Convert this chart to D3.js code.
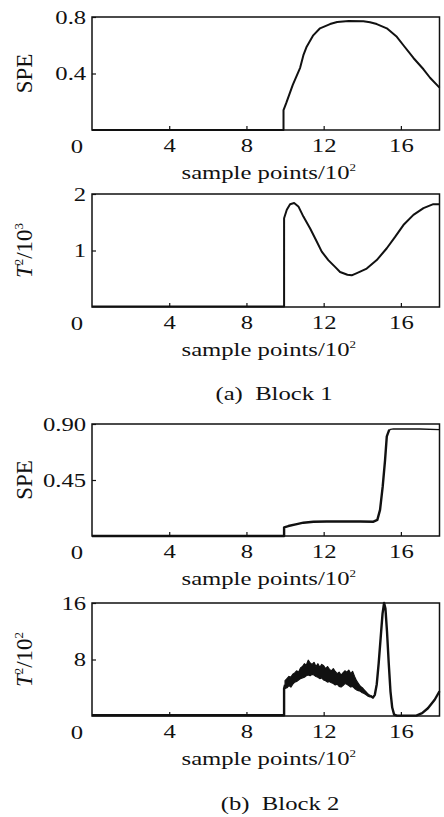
<!DOCTYPE html>
<html>
<head>
<meta charset="utf-8">
<script src="https://cdn.jsdelivr.net/npm/d3@7"></script>
<style>
    body { margin: 0; background: #fff; }
    svg { display: block; }
</style>
</head>
<body>
<div id="grafico"></div>
<script>

/**************************************************
 * Data
***************************************************/
// x axis = sample points / 10^2
const xTicks = [4, 8, 12, 16];

// (a) Block 1 - SPE
const b1SpeX = [0, 9.92, 9.92, 10.06, 10.4, 10.78, 10.95, 11.12, 11.46, 11.81, 12.33, 12.7, 13.3, 14.06, 14.4, 14.75, 15.27, 15.79, 16.13, 16.65, 17.17, 17.51, 18];
const b1SpeY = [0, 0, 0.14, 0.19, 0.32, 0.44, 0.53, 0.59, 0.67, 0.72, 0.75, 0.765, 0.772, 0.77, 0.763, 0.75, 0.72, 0.66, 0.60, 0.51, 0.43, 0.37, 0.30];
const b1SpeTicks = [0.4, 0.8];

// (a) Block 1 - T^2 / 10^3
const b1T2X = [0, 9.95, 9.95, 10.09, 10.26, 10.47, 10.69, 10.95, 11.30, 11.64, 11.90, 12.24, 12.59, 12.85, 13.23, 13.45, 13.72, 14.23, 14.75, 15.27, 15.70, 16.13, 16.65, 17.17, 17.68, 18];
const b1T2Y = [0.01, 0.01, 1.57, 1.72, 1.82, 1.84, 1.78, 1.60, 1.39, 1.16, 0.98, 0.83, 0.71, 0.62, 0.57, 0.56, 0.60, 0.68, 0.83, 1.04, 1.24, 1.45, 1.63, 1.75, 1.82, 1.82];
const b1T2Ticks = [1, 2];

// (b) Block 2 - SPE
const b2SpeX = [0, 9.95, 9.95, 10.17, 10.61, 10.95, 11.47, 12.16, 13.02, 13.89, 14.58, 14.78, 14.92, 15.06, 15.18, 15.27, 15.40, 15.61, 16.99, 18];
const b2SpeY = [0, 0, 0.07, 0.08, 0.095, 0.107, 0.115, 0.117, 0.117, 0.117, 0.115, 0.13, 0.21, 0.40, 0.61, 0.80, 0.855, 0.86, 0.86, 0.855];
const b2SpeTicks = [0.45, 0.90];

// (b) Block 2 - T^2 / 10^2 (line parts, null = gap covered by the noisy band)
const b2T2X = [0, 9.95, 9.95, 10.0, null, 14.4, 14.45, 14.55, 14.65, 14.75, 14.85, 14.95, 15.05, 15.13, 15.2, 15.28, 15.37, 15.46, 15.55, 15.65, 15.8, 16.8, 17.1, 17.4, 17.75, 18];
const b2T2Y = [0.1, 0.1, 3.9, 4.4, null, 2.85, 2.8, 2.6, 3.0, 4.5, 7.5, 11.0, 14.5, 16.0, 15.2, 12.0, 7.5, 3.5, 1.2, 0.2, 0.05, 0.05, 0.4, 1.1, 2.3, 3.5];
// noisy band 10 - 14.4 (upper / lower envelope)
const b2BandX = [10.0, 10.1, 10.2, 10.3, 10.4, 10.5, 10.6, 10.7, 10.8, 10.9, 11.0, 11.1, 11.2, 11.3, 11.4, 11.5, 11.6, 11.7, 11.8, 11.9, 12.0, 12.1, 12.2, 12.3, 12.4, 12.5, 12.6, 12.7, 12.8, 12.9, 13.0, 13.1, 13.2, 13.3, 13.4, 13.5, 13.6, 13.7, 13.8, 13.9, 14.0, 14.1, 14.2, 14.3, 14.4];
const b2BandHi = [5.0, 5.3, 5.6, 5.5, 5.9, 6.1, 6.4, 6.2, 6.8, 7.0, 7.4, 7.2, 7.9, 7.5, 7.3, 7.6, 7.0, 7.4, 6.9, 7.3, 7.1, 6.7, 7.0, 6.6, 6.4, 6.7, 6.3, 6.0, 6.2, 5.8, 6.1, 6.4, 6.2, 6.5, 6.0, 6.3, 5.6, 5.0, 4.6, 4.2, 4.0, 3.7, 3.4, 3.1, 2.9];
const b2BandLo = [3.9, 4.0, 4.3, 4.1, 4.5, 4.8, 4.9, 5.1, 5.3, 5.4, 5.5, 5.7, 5.8, 5.7, 5.9, 5.8, 5.6, 5.5, 5.3, 5.4, 5.1, 5.0, 4.8, 4.9, 4.7, 4.6, 4.4, 4.5, 4.2, 4.1, 4.3, 4.6, 4.5, 4.3, 4.1, 4.2, 3.9, 3.7, 3.6, 3.5, 3.3, 3.2, 3.0, 2.8, 2.7];
const b2T2Ticks = [8, 16];

const captions = ["(a)  Block 1", "(b)  Block 2"];


/**************************************************
 * Dimensions
***************************************************/
const width = 444;
const height = 817;
const plotLeft = 92;
const plotRight = 439.5;
const sx = 1.3;  // texts in the figure are stretched horizontally
const fontSerif = "'Liberation Serif', 'Times New Roman', serif";

const svg = d3.select("#grafico")
    .append("svg")
    .attr("width", width)
    .attr("height", height);

const xScale = d3.scaleLinear()
    .domain([0, 18])
    .range([plotLeft, plotRight]);

const toPoints = (xs, ys) => xs.map((d, i) => ({ x: d, y: ys[i] }));

const panels = [
    { top: 17, bottom: 130, max: 0.8, ticks: b1SpeTicks, fmt: d3.format(".1f"), label: "SPE",
      lines: [{ pts: toPoints(b1SpeX, b1SpeY), w: 2 }] },
    { top: 194, bottom: 307, max: 2, ticks: b1T2Ticks, fmt: d3.format("d"), label: ["2", "3"],
      lines: [{ pts: toPoints(b1T2X, b1T2Y), w: 2 }] },
    { top: 424, bottom: 536, max: 0.9, ticks: b2SpeTicks, fmt: d3.format(".2f"), label: "SPE",
      lines: [{ pts: toPoints(b2SpeX, b2SpeY).filter(d => d.x <= 15.4), w: 2.4 },
              { pts: toPoints(b2SpeX, b2SpeY).filter(d => d.x >= 15.4), w: 1.3 }] },
    { top: 603, bottom: 716, max: 16, ticks: b2T2Ticks, fmt: d3.format("d"), label: ["2", "2"],
      lines: [{ pts: toPoints(b2T2X, b2T2Y), w: 2.4 }],
      band: b2BandX.map((d, i) => ({ x: d, hi: b2BandHi[i], lo: b2BandLo[i] })) }
];

/**************************************************
 * Panels
***************************************************/
panels.forEach(p => {
    const yScale = d3.scaleLinear()
        .domain([0, p.max])
        .range([p.bottom, p.top]);

    const g = svg.append("g");

    // noisy band
    if (p.band) {
        const area = d3.area()
            .x(d => xScale(d.x))
            .y0(d => yScale(d.lo))
            .y1(d => yScale(d.hi));
        g.append("path")
            .datum(p.band)
            .attr("d", area)
            .attr("fill", "#111")
            .attr("stroke", "#111")
            .attr("stroke-width", 1.2)
            .attr("stroke-linejoin", "round");
    }

    // lines
    const line = d3.line()
        .defined(d => d.x != null && d.y != null)
        .x(d => xScale(d.x))
        .y(d => yScale(d.y));

    p.lines.forEach(l => {
        g.append("path")
            .datum(l.pts)
            .attr("d", line)
            .attr("fill", "none")
            .attr("stroke", "#111")
            .attr("stroke-width", l.w)
            .attr("stroke-linejoin", "round");
    });

    // frame
    g.append("rect")
        .attr("x", plotLeft)
        .attr("y", p.top)
        .attr("width", plotRight - plotLeft)
        .attr("height", p.bottom - p.top)
        .attr("fill", "none")
        .attr("stroke", "#111")
        .attr("stroke-width", 1.5);

    // x axis (ticks inside)
    const xAxis = d3.axisBottom(xScale)
        .tickValues(xTicks)
        .tickSizeInner(-4)
        .tickSizeOuter(0)
        .tickPadding(9)
        .tickFormat(d3.format("d"));

    const gx = g.append("g")
        .attr("transform", `translate(0,${p.bottom})`)
        .call(xAxis);

    // y axis (ticks inside)
    const yAxis = d3.axisLeft(yScale)
        .tickValues(p.ticks)
        .tickSizeInner(-4)
        .tickSizeOuter(0)
        .tickPadding(4.5)
        .tickFormat(p.fmt);

    const gy = g.append("g")
        .attr("transform", `translate(${plotLeft},0)`)
        .call(yAxis);

    [gx, gy].forEach(a => {
        a.select(".domain").remove();
        a.selectAll("line").attr("stroke", "#111").attr("stroke-width", 1.2);
        a.selectAll("text")
            .attr("fill", "#111")
            .attr("font-family", fontSerif)
            .attr("font-size", 19)
            .attr("transform", `scale(${sx},1)`);
    });

    // shared origin "0"
    g.append("text")
        .attr("transform", `translate(${plotLeft - 15},${p.bottom + 22.5}) scale(${sx},1)`)
        .attr("text-anchor", "middle")
        .attr("font-family", fontSerif)
        .attr("font-size", 19)
        .attr("fill", "#111")
        .text("0");

    // x label
    const xl = g.append("text")
        .attr("transform", `translate(${(plotLeft + plotRight) / 2 + 3},${p.bottom + 49}) scale(${sx},1)`)
        .attr("text-anchor", "middle")
        .attr("font-family", fontSerif)
        .attr("font-size", 19)
        .attr("fill", "#111");
    xl.append("tspan").text("sample points/10");
    xl.append("tspan").attr("font-size", 10).attr("dy", -8).text("2");

    // y label
    const yl = g.append("text")
        .attr("transform", `translate(24,${(p.top + p.bottom) / 2}) rotate(-90)`)
        .attr("text-anchor", "middle")
        .attr("dy", "0.35em")
        .attr("font-family", fontSerif)
        .attr("font-size", 23)
        .attr("fill", "#111");
    if (typeof p.label === "string") {
        yl.text(p.label);
    } else {
        yl.append("tspan").attr("font-style", "italic").text("T");
        yl.append("tspan").attr("font-size", 13).attr("dy", -9).text(p.label[0]);
        yl.append("tspan").attr("dy", 9).text("/10");
        yl.append("tspan").attr("font-size", 13).attr("dy", -9).text(p.label[1]);
    }
});

/**************************************************
 * Captions
***************************************************/
svg.selectAll(".caption")
    .data(captions)
    .enter()
    .append("text")
    .attr("class", "caption")
    .attr("transform", (d, i) => `translate(${i === 0 ? 274 : 280},${i === 0 ? 400 : 810}) scale(${sx},1)`)
    .attr("text-anchor", "middle")
    .attr("font-family", fontSerif)
    .attr("font-size", 19)
    .attr("fill", "#111")
    .style("white-space", "pre")
    .text(d => d);

</script>
</body>
</html>
